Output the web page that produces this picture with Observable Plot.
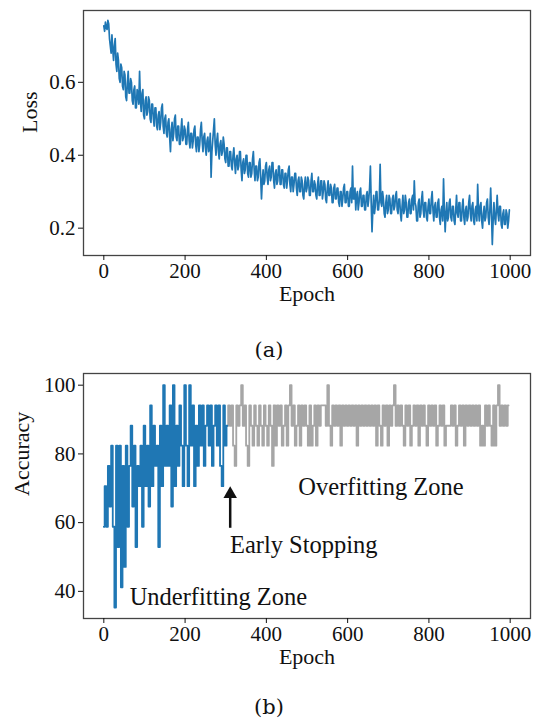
<!DOCTYPE html>
<html><head><meta charset="utf-8">
<script src="https://cdn.jsdelivr.net/npm/d3@7"></script>
<script src="https://cdn.jsdelivr.net/npm/@observablehq/plot@0.6"></script>
<style>
body{margin:0;background:#fff;}
#wrap{position:relative;width:538px;height:722px;font-family:"Liberation Serif",serif;}
#wrap svg{position:absolute;left:0;}
.cap{position:absolute;left:0;width:538px;text-align:center;font-size:21px;line-height:24px;color:#111;font-family:"DejaVu Serif","Liberation Serif",serif;}
</style></head><body><div id="wrap"></div>
<script>
// ---- data ----
const lossStep = 2;
const accStep = 4;
const xTicks = [0, 200, 400, 600, 800, 1000];
const lossTicks = [0.2, 0.4, 0.6];
const accTicks = [40, 60, 80, 100];

// training loss, epochs 0, 2, 4, ... 998
const lossValues = [
  0.755, 0.74, 0.765, 0.75, 0.745, 0.77, 0.76, 0.72, 0.70, 0.68, 0.73, 0.69, 0.66, 0.70, 0.72, 0.65, 0.63, 0.68, 0.66, 0.61,
  0.60, 0.65, 0.64, 0.59, 0.58, 0.63, 0.62, 0.56, 0.55, 0.60, 0.63, 0.57, 0.57, 0.61, 0.60, 0.55, 0.54, 0.58, 0.59, 0.53,
  0.53, 0.58, 0.57, 0.54, 0.63, 0.55, 0.52, 0.57, 0.58, 0.51, 0.50, 0.55, 0.56, 0.51, 0.52, 0.56, 0.55, 0.50, 0.49, 0.54,
  0.54, 0.50, 0.48, 0.53, 0.53, 0.48, 0.47, 0.51, 0.52, 0.47, 0.49, 0.53, 0.54, 0.48, 0.46, 0.50, 0.51, 0.46, 0.45, 0.49,
  0.50, 0.45, 0.41, 0.47, 0.49, 0.44, 0.46, 0.50, 0.51, 0.45, 0.44, 0.48, 0.48, 0.43, 0.43, 0.47, 0.50, 0.44, 0.45, 0.48,
  0.47, 0.43, 0.43, 0.47, 0.49, 0.44, 0.42, 0.46, 0.46, 0.42, 0.44, 0.47, 0.48, 0.43, 0.41, 0.45, 0.45, 0.41, 0.43, 0.47,
  0.49, 0.44, 0.41, 0.45, 0.46, 0.42, 0.40, 0.44, 0.45, 0.41, 0.42, 0.46, 0.34, 0.41, 0.44, 0.47, 0.50, 0.43, 0.40, 0.44,
  0.46, 0.41, 0.39, 0.43, 0.44, 0.40, 0.41, 0.45, 0.43, 0.39, 0.38, 0.42, 0.42, 0.37, 0.37, 0.41, 0.41, 0.37, 0.36, 0.40,
  0.42, 0.38, 0.35, 0.39, 0.40, 0.36, 0.37, 0.41, 0.41, 0.36, 0.33, 0.38, 0.39, 0.35, 0.36, 0.40, 0.40, 0.35, 0.34, 0.38,
  0.38, 0.34, 0.35, 0.39, 0.41, 0.36, 0.33, 0.37, 0.37, 0.33, 0.34, 0.38, 0.39, 0.34, 0.28, 0.33, 0.36, 0.32, 0.33, 0.37,
  0.38, 0.34, 0.32, 0.36, 0.37, 0.33, 0.34, 0.38, 0.38, 0.33, 0.31, 0.35, 0.36, 0.32, 0.33, 0.37, 0.37, 0.32, 0.32, 0.36,
  0.36, 0.32, 0.31, 0.35, 0.35, 0.31, 0.33, 0.36, 0.37, 0.32, 0.30, 0.34, 0.34, 0.30, 0.32, 0.35, 0.35, 0.31, 0.29, 0.33,
  0.34, 0.30, 0.30, 0.34, 0.33, 0.29, 0.28, 0.32, 0.34, 0.30, 0.31, 0.34, 0.33, 0.29, 0.29, 0.33, 0.35, 0.30, 0.30, 0.33,
  0.32, 0.29, 0.28, 0.32, 0.34, 0.29, 0.29, 0.33, 0.33, 0.28, 0.30, 0.33, 0.32, 0.28, 0.27, 0.31, 0.33, 0.29, 0.29, 0.32,
  0.31, 0.27, 0.27, 0.31, 0.32, 0.28, 0.28, 0.31, 0.31, 0.27, 0.26, 0.30, 0.30, 0.26, 0.28, 0.31, 0.32, 0.27, 0.27, 0.30,
  0.30, 0.26, 0.26, 0.30, 0.31, 0.27, 0.37, 0.28, 0.28, 0.31, 0.25, 0.29, 0.30, 0.25, 0.27, 0.30, 0.31, 0.26, 0.26, 0.29,
  0.29, 0.25, 0.25, 0.29, 0.30, 0.26, 0.28, 0.31, 0.37, 0.27, 0.19, 0.25, 0.29, 0.24, 0.26, 0.30, 0.30, 0.25, 0.25, 0.28,
  0.375, 0.27, 0.26, 0.30, 0.28, 0.24, 0.23, 0.27, 0.29, 0.24, 0.25, 0.29, 0.28, 0.24, 0.24, 0.28, 0.29, 0.25, 0.26, 0.29,
  0.30, 0.25, 0.24, 0.28, 0.28, 0.24, 0.22, 0.26, 0.29, 0.24, 0.25, 0.29, 0.27, 0.23, 0.23, 0.27, 0.28, 0.24, 0.24, 0.28,
  0.29, 0.25, 0.33, 0.27, 0.26, 0.22, 0.22, 0.27, 0.28, 0.23, 0.24, 0.28, 0.30, 0.25, 0.23, 0.27, 0.27, 0.23, 0.22, 0.26,
  0.28, 0.24, 0.24, 0.28, 0.30, 0.25, 0.22, 0.26, 0.27, 0.23, 0.23, 0.27, 0.28, 0.23, 0.21, 0.25, 0.26, 0.22, 0.335, 0.25,
  0.19, 0.24, 0.27, 0.22, 0.23, 0.27, 0.28, 0.23, 0.22, 0.26, 0.26, 0.22, 0.21, 0.25, 0.29, 0.24, 0.23, 0.27, 0.27, 0.22,
  0.22, 0.26, 0.28, 0.23, 0.21, 0.25, 0.26, 0.22, 0.23, 0.27, 0.29, 0.24, 0.22, 0.26, 0.27, 0.22, 0.21, 0.25, 0.26, 0.22,
  0.32, 0.25, 0.22, 0.26, 0.27, 0.22, 0.20, 0.24, 0.26, 0.22, 0.23, 0.27, 0.28, 0.23, 0.21, 0.25, 0.31, 0.24, 0.155, 0.22,
  0.27, 0.23, 0.21, 0.25, 0.29, 0.24, 0.22, 0.26, 0.26, 0.21, 0.20, 0.24, 0.25, 0.21, 0.21, 0.25, 0.24, 0.20, 0.22, 0.25
];

// validation accuracy before early stopping (epochs 0, 4, ... 304)
const accuracyBefore = [
  58.8, 70.6, 58.8, 76.5, 64.7, 82.4, 58.8, 35.3, 82.4, 52.9,
  82.4, 41.2, 76.5, 47.1, 82.4, 58.8, 76.5, 88.2, 64.7, 82.4,
  52.9, 76.5, 70.6, 82.4, 58.8, 88.2, 70.6, 82.4, 64.7, 94.1,
  70.6, 88.2, 76.5, 82.4, 52.9, 88.2, 70.6, 100, 76.5, 88.2,
  76.5, 94.1, 64.7, 100, 70.6, 88.2, 76.5, 94.1, 82.4, 70.6,
  100, 82.4, 70.6, 100, 82.4, 94.1, 70.6, 88.2, 76.5, 94.1,
  82.4, 94.1, 76.5, 88.2, 94.1, 82.4, 94.1, 76.5, 88.2, 94.1,
  82.4, 94.1, 76.5, 70.6, 94.1, 82.4, 88.2
];
// validation accuracy after early stopping (epochs 308, 312, ... 996)
const accuracyAfter = [
  94.1, 88.2, 94.1, 82.4, 76.5, 94.1, 88.2, 94.1, 100, 88.2,
  94.1, 82.4, 76.5, 94.1, 88.2, 82.4, 94.1, 88.2, 82.4, 94.1,
  88.2, 82.4, 94.1, 88.2, 82.4, 94.1, 88.2, 76.5, 94.1, 82.4,
  94.1, 88.2, 94.1, 82.4, 88.2, 94.1, 82.4, 94.1, 100, 88.2,
  94.1, 82.4, 88.2, 94.1, 82.4, 94.1, 88.2, 94.1, 88.2, 82.4,
  94.1, 82.4, 88.2, 94.1, 82.4, 94.1, 88.2, 94.1, 94.1, 94.1,
  88.2, 100, 88.2, 82.4, 94.1, 88.2, 94.1, 88.2, 94.1, 82.4,
  94.1, 88.2, 94.1, 88.2, 94.1, 88.2, 94.1, 88.2, 94.1, 82.4,
  94.1, 88.2, 94.1, 88.2, 94.1, 88.2, 94.1, 88.2, 94.1, 88.2,
  94.1, 82.4, 94.1, 88.2, 82.4, 94.1, 88.2, 94.1, 82.4, 94.1,
  88.2, 94.1, 100, 88.2, 94.1, 88.2, 94.1, 88.2, 82.4, 94.1,
  88.2, 94.1, 82.4, 88.2, 94.1, 88.2, 94.1, 82.4, 94.1, 88.2,
  94.1, 88.2, 82.4, 94.1, 88.2, 94.1, 88.2, 94.1, 82.4, 88.2,
  94.1, 88.2, 94.1, 82.4, 88.2, 88.2, 88.2, 94.1, 88.2, 94.1,
  82.4, 88.2, 94.1, 88.2, 94.1, 82.4, 94.1, 88.2, 94.1, 88.2,
  94.1, 88.2, 94.1, 88.2, 94.1, 82.4, 88.2, 82.4, 94.1, 88.2,
  94.1, 88.2, 82.4, 94.1, 82.4, 94.1, 100, 88.2, 94.1, 88.2,
  94.1, 88.2, 94.1
];

const annotationText = ["Overfitting Zone", "Early Stopping", "Underfitting Zone"];
const annotationEpoch = [682, 492, 282];
const annotationAcc = [70.4, 53.3, 38.3];
const arrowEpoch = 311;
const arrowFrom = 58.5;
const arrowTo = 68.3;

// ---- build tables ----
const lossData = lossValues.map((v, i) => ({epoch: i * lossStep, loss: v}));
const accBefore = accuracyBefore.map((v, i) => ({epoch: i * accStep, acc: v}));
const lastBefore = accBefore[accBefore.length - 1];
const accAfter = [lastBefore].concat(accuracyAfter.map((v, i) => ({epoch: lastBefore.epoch + (i + 1) * accStep, acc: v})));
const annotations = annotationText.map((t, i) => ({text: t, epoch: annotationEpoch[i], acc: annotationAcc[i]}));

const font = "Liberation Serif";
const common = {
  width: 538, height: 330,
  marginLeft: 83, marginRight: 8, marginTop: 10, marginBottom: 75,
  style: {fontFamily: font, fontSize: "21px", color: "#111", background: "white"},
  x: {domain: [-50, 1050]}
};
const xAxis = () => Plot.axisX({ticks: xTicks, tickSize: 5, tickPadding: 3, label: null, fontSize: 21, tickFormat: d => String(d)});

const topChart = Plot.plot({
  ...common,
  y: {domain: [0.125, 0.797]},
  marks: [
    Plot.lineY(lossData, {x: "epoch", y: "loss", stroke: "#1f77b4", strokeWidth: 1.7}),
    Plot.frame({stroke: "#444", strokeWidth: 1.3}),
    xAxis(),
    Plot.axisY({ticks: lossTicks, tickSize: 5, tickPadding: 3, label: null, fontSize: 21, tickFormat: d => d.toFixed(1)}),
    Plot.text(["Loss"], {text: d => d, frameAnchor: "left", dx: -54, rotate: -90, fontSize: 22}),
    Plot.text(["Epoch"], {text: d => d, frameAnchor: "bottom", dy: 45, fontSize: 22})
  ]
});

const bottomChart = Plot.plot({
  ...common,
  height: 328, marginTop: 10, marginBottom: 73,
  y: {domain: [32.1, 103.4]},
  marks: [
    Plot.lineY(accAfter, {x: "epoch", y: "acc", stroke: "#a6a6a6", strokeWidth: 1.8, curve: "step"}),
    Plot.lineY(accBefore, {x: "epoch", y: "acc", stroke: "#1f77b4", strokeWidth: 1.8, curve: "step"}),
    Plot.frame({stroke: "#444", strokeWidth: 1.3}),
    xAxis(),
    Plot.axisY({ticks: accTicks, tickSize: 5, tickPadding: 3, label: null, fontSize: 21}),
    Plot.text(["Accuracy"], {text: d => d, frameAnchor: "left", dx: -62, rotate: -90, fontSize: 22}),
    Plot.text(["Epoch"], {text: d => d, frameAnchor: "bottom", dy: 45, fontSize: 22}),
    Plot.link([0], {x1: arrowEpoch, x2: arrowEpoch, y1: arrowFrom, y2: arrowTo, stroke: "#111", strokeWidth: 2.5}),
    Plot.dot([0], {x: arrowEpoch, y: arrowTo, symbol: "triangle", r: 5, fill: "#111", stroke: "none"}),
    Plot.text(annotations, {x: "epoch", y: "acc", text: "text", fontSize: 24.5, fill: "#111"})
  ]
});

const wrap = document.getElementById("wrap");
topChart.style.top = "0px";
wrap.appendChild(topChart);
const capA = document.createElement("div");
capA.className = "cap"; capA.style.top = "338px"; capA.textContent = "(a)";
wrap.appendChild(capA);
bottomChart.style.top = "363px";
wrap.appendChild(bottomChart);
const capB = document.createElement("div");
capB.className = "cap"; capB.style.top = "695px"; capB.textContent = "(b)";
wrap.appendChild(capB);
</script></body></html>
